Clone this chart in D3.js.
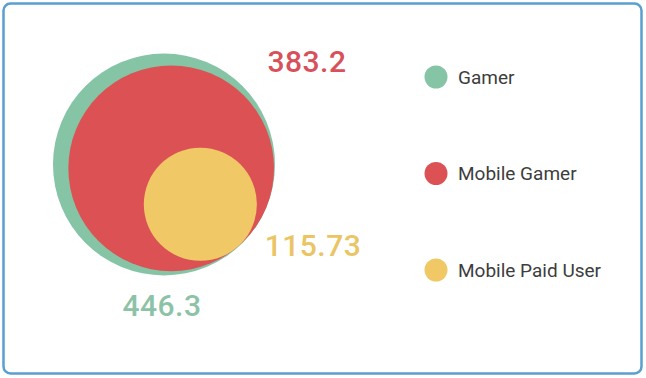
<!DOCTYPE html>
<html>
<head>
<meta charset="utf-8">
<script src="https://cdn.jsdelivr.net/npm/d3@7"></script>
<style>
  html, body { margin: 0; padding: 0; background: #fff; }
  svg { display: block; font-family: Roboto, "Noto Sans", sans-serif; }
</style>
</head>
<body>
<div id="chart"></div>
<script>
// Data
const categories = ['Gamer', 'Mobile Gamer', 'Mobile Paid User'];
const values = [446.3, 383.2, 115.73];
const labels = ['446.3', '383.2', '115.73'];
const colors = ['#86c4a6', '#dc5254', '#f0c966'];
const textColors = ['#8cc3a7', '#d8505a', '#ebc463'];

const width = 646, height = 378;

const svg = d3.select('#chart')
    .append('svg')
    .attr('width', width)
    .attr('height', height);

// Frame
svg.append('rect')
    .attr('x', 3.5)
    .attr('y', 3.5)
    .attr('width', width - 8)
    .attr('height', height - 8)
    .attr('rx', 7)
    .attr('fill', '#fff')
    .attr('stroke', '#5a9fd0')
    .attr('stroke-width', 2.5);

// Radius scale: area proportional to value
const rScale = d3.scaleSqrt()
    .domain([0, d3.max(values)])
    .range([0, 111]);

// Nested circles, each tangent inside its parent at a given angle
const tangentAngles = [0, 28, 51]; // degrees
const nodes = [];
values.forEach((v, i) => {
    const r = rScale(v);
    if (i === 0) {
        nodes.push({cx: 164, cy: 164.5, r: r});
    } else {
        const p = nodes[i - 1];
        const a = tangentAngles[i] * Math.PI / 180;
        const d = p.r - r;
        nodes.push({cx: p.cx + d * Math.cos(a), cy: p.cy + d * Math.sin(a), r: r});
    }
});

svg.selectAll('.bubble')
    .data(nodes)
    .enter()
    .append('circle')
    .attr('class', 'bubble')
    .attr('cx', d => d.cx)
    .attr('cy', d => d.cy)
    .attr('r', d => d.r)
    .attr('fill', (d, i) => colors[i]);

// Value labels
const labelPos = [
    {x: 162, y: 316, anchor: 'middle'},
    {x: 307, y: 72, anchor: 'middle'},
    {x: 313, y: 256, anchor: 'middle'}
];

svg.selectAll('.value-label')
    .data(labels)
    .enter()
    .append('text')
    .attr('class', 'value-label')
    .attr('x', (d, i) => labelPos[i].x)
    .attr('y', (d, i) => labelPos[i].y)
    .attr('text-anchor', (d, i) => labelPos[i].anchor)
    .attr('fill', (d, i) => textColors[i])
    .style('font-size', '30px')
    .style('font-weight', '500')
    .style('letter-spacing', '0.5px')
    .text(d => d);

// Legend
const legendY = d3.scalePoint()
    .domain(categories)
    .range([77, 270]);

const legend = svg.append('g')
    .attr('class', 'legend');

const items = legend.selectAll('.legend-item')
    .data(categories)
    .enter()
    .append('g')
    .attr('class', 'legend-item')
    .attr('transform', d => `translate(436,${legendY(d)})`);

items.append('circle')
    .attr('r', 11.5)
    .attr('fill', (d, i) => colors[i]);

items.append('text')
    .attr('x', 22)
    .attr('dy', '0.36em')
    .attr('fill', '#3d3d3d')
    .style('font-size', '19px')
    .text(d => d);
</script>
</body>
</html>
